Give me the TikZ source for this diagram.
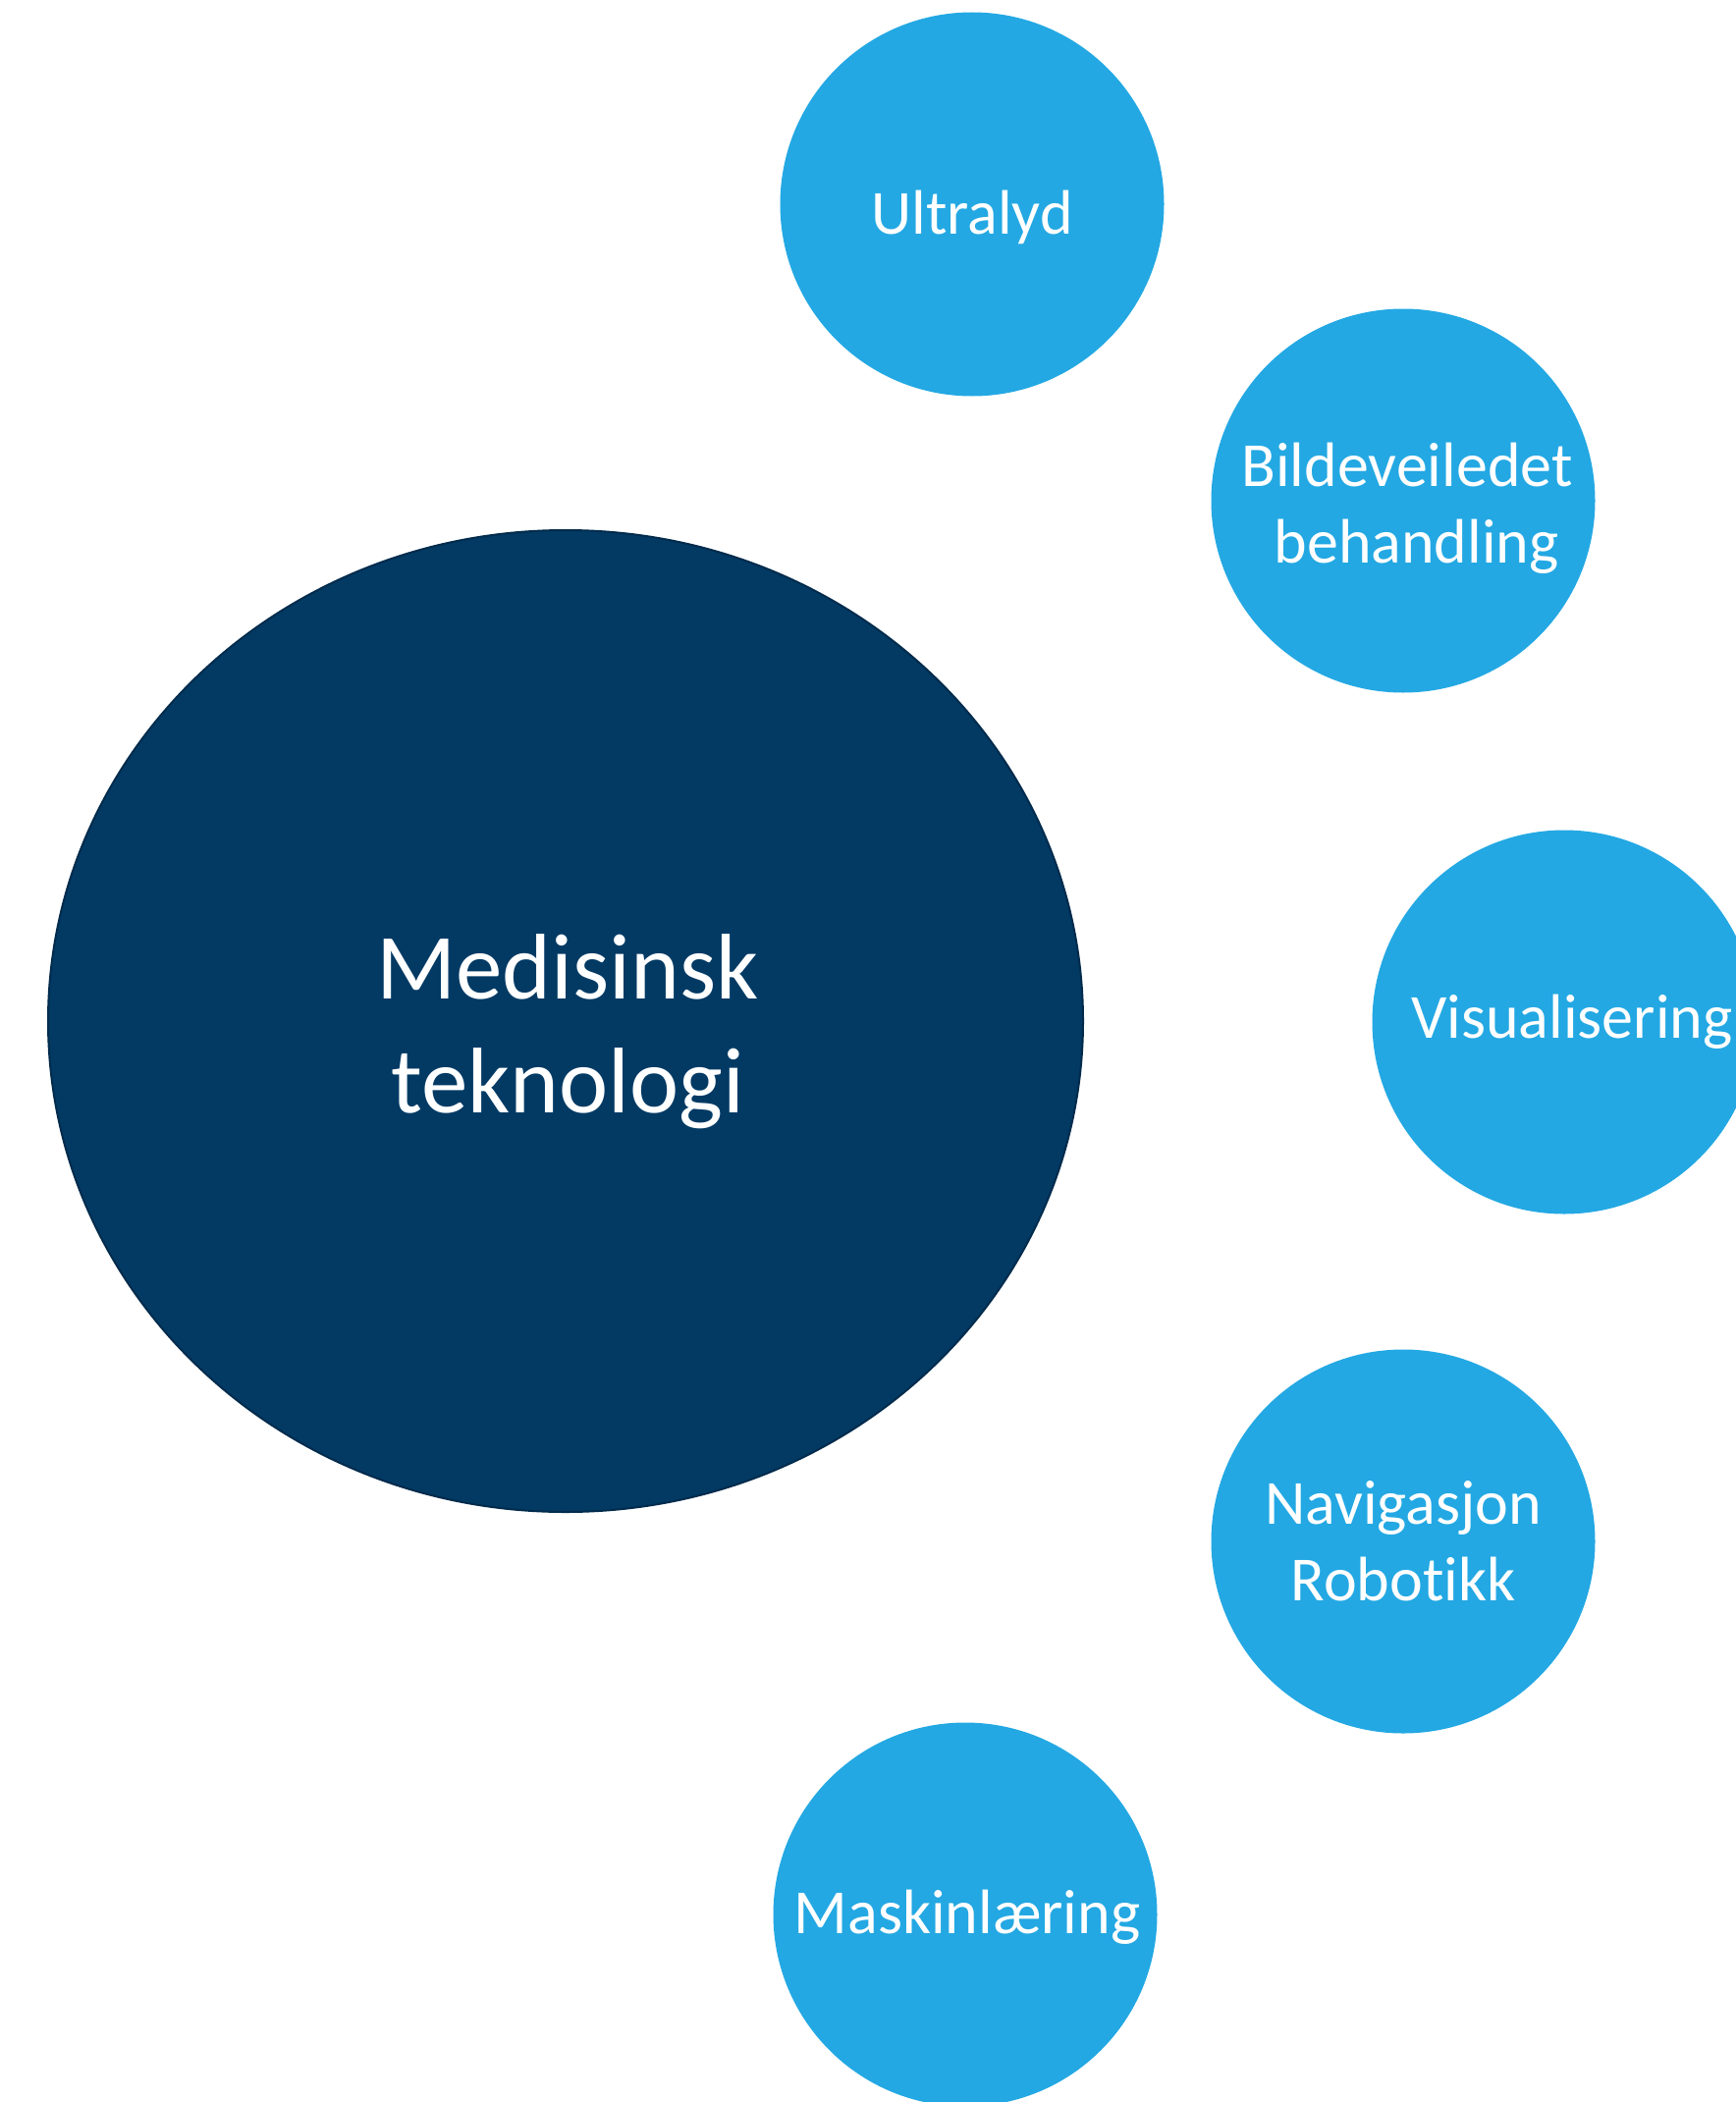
\documentclass[tikz,border=0pt]{standalone}
\usepackage{fontspec}
\setmainfont{Carlito}[Ligatures=NoCommon]
\usetikzlibrary{shapes.geometric}
\definecolor{navy}{HTML}{023A64}
\definecolor{navyline}{HTML}{012B4C}
\definecolor{sky}{HTML}{23A8E3}
\tikzset{
  bigblob/.style={ellipse, fill=navy, draw=navyline, line width=2pt,
    minimum width=1054pt, minimum height=1000pt, inner sep=0pt,
    text=white, align=center, font=\fontsize{95}{116}\selectfont},
  subblob/.style={circle, fill=sky, draw=none, minimum size=391pt, inner sep=0pt,
    text=white, align=center, font=\fontsize{64}{78}\selectfont},
  blobtext/.style={text=white, align=center, font=\fontsize{64}{78}\selectfont}
}
\begin{document}
\begin{tikzpicture}[x=1pt,y=-1pt]
\useasboundingbox (0,0) rectangle (1768,2141);
\clip (0,0) rectangle (1768,2141);
\node[bigblob] (med) at (576,1040) {};
\node[text=white, align=center, font=\fontsize{95}{116}\selectfont] (medtext) at (578,1051) {Medisinsk\\teknologi};
\node[subblob] (ultra) at (990,208) {};
\node[blobtext] (ultratext) at (990,221) {Ultralyd};
\node[subblob] (bilde) at (1429,510) {};
\node[blobtext] (bildetext) at (1433,518) {Bildeveiledet\\\hspace*{0.3em}behandling};
\node[subblob] (visu) at (1593,1041) {};
\node[blobtext] (visutext) at (1601,1041) {Visualisering};
\node[subblob] (navi) at (1429,1570) {Navigasjon\\Robot\kern0pt ikk};
\node[subblob] (mask) at (983,1950) {};
\node[blobtext] (masktext) at (985,1953) {Maskinlæring};
\end{tikzpicture}
\end{document}
